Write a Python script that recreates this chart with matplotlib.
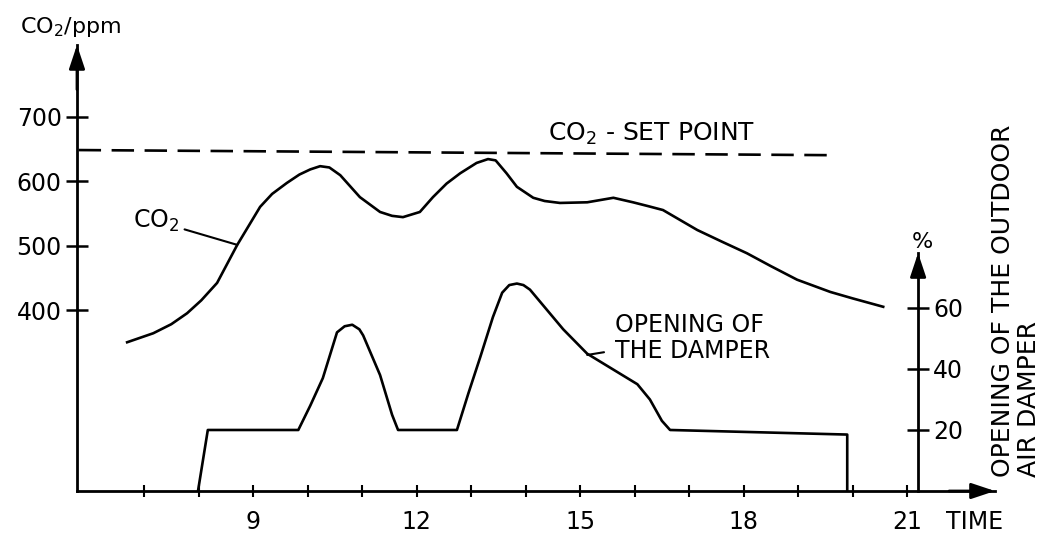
import matplotlib.pyplot as plt

# CO2 concentration (hour of day, ppm)
co2_time = [6.69, 7.17, 7.50, 7.79, 8.05, 8.34, 8.71, 9.13, 9.35, 9.62, 9.85, 10.05, 10.23,
            10.40, 10.60, 10.96, 11.33, 11.55, 11.75, 12.06, 12.30, 12.55, 12.80, 13.10,
            13.31, 13.45, 13.65, 13.84, 14.14, 14.35, 14.63, 15.13, 15.61, 15.97, 16.25,
            16.52, 17.15, 17.60, 18.06, 18.50, 18.98, 19.59, 20.00, 20.56]
co2_ppm = [350, 364, 378, 395, 415, 442, 501, 560, 580, 597, 610, 618, 623,
           621, 609, 575, 552, 546, 544, 552, 575, 596, 612, 628,
           634, 632, 612, 591, 574, 569, 566, 567, 574, 567, 561,
           555, 524, 506, 488, 468, 447, 428, 418, 405]

# set point line (dashed)
setpoint_time = [5.8, 19.7]
setpoint_ppm = [648, 640]

# damper opening in percent
damper_time = [7.99, 8.17, 9.83, 10.05, 10.28, 10.54, 10.68, 10.82, 10.95, 11.02, 11.33,
               11.55, 11.66, 12.74, 12.95, 13.17, 13.40, 13.57, 13.70, 13.84, 13.96, 14.08,
               14.69, 15.13, 16.05, 16.28, 16.50, 16.65, 19.90, 19.90]
damper_pct = [0, 20, 20, 28, 37, 52, 54, 54.5, 53, 51, 38,
              25, 20, 20, 32, 44, 57, 65, 67.5, 68, 67.5, 66,
              53, 45, 35, 30, 23, 20, 18.5, 0]

hour_ticks = list(range(7, 22))
hour_labels = [str(h) if h in (9, 12, 15, 18, 21) else '' for h in hour_ticks]
ppm_ticks = [400, 500, 600, 700]
pct_ticks = [20, 40, 60]

plt.rcParams['font.family'] = 'DejaVu Sans'
plt.rcParams['mathtext.default'] = 'regular'

fig = plt.figure(figsize=(10.46, 5.33), dpi=100)
ax = fig.add_axes([0.0736, 0.0788, 0.8776, 0.8368])
ax2 = ax.twinx()

ax.set_xlim(5.77, 22.61)
ax.set_ylim(119.4, 810.9)
ax2.set_ylim(0, 146.2)

lw = 1.9
ax.plot(co2_time, co2_ppm, color='black', lw=lw, solid_joinstyle='round')
ax.plot(setpoint_time, setpoint_ppm, color='black', lw=lw, dashes=(8.5, 4))
ax2.plot(damper_time, damper_pct, color='black', lw=lw, solid_joinstyle='round')

# axes look: only left, bottom and an inner right axis
for a in (ax, ax2):
    a.spines['top'].set_visible(False)
ax.spines['right'].set_visible(False)
ax2.spines['left'].set_visible(False)
ax2.spines['bottom'].set_visible(False)
ax.spines['left'].set_linewidth(2)
ax.spines['bottom'].set_linewidth(2)
ax2.spines['right'].set_position(('data', 21.2))
ax2.spines['right'].set_bounds(0, 78)
ax2.spines['right'].set_linewidth(2)

ax.set_xticks(hour_ticks)
ax.set_xticklabels(hour_labels)
ax.set_yticks(ppm_ticks)
ax.set_yticklabels([str(v) for v in ppm_ticks])
ax2.set_yticks(pct_ticks)
ax2.set_yticklabels([str(v) for v in pct_ticks])

ax.tick_params(axis='x', direction='inout', length=8, width=1.5, pad=10, labelsize=17)
ax.tick_params(axis='y', direction='inout', length=16, width=1.8, pad=3, labelsize=17)
ax2.tick_params(axis='y', direction='inout', length=16, width=1.8, pad=3, labelsize=17)

# arrow heads on the axes
arrow = dict(arrowstyle='-|>,head_length=0.9,head_width=0.3', color='black', lw=2,
             shrinkA=0, shrinkB=0, mutation_scale=16)
ax.annotate('', xy=(0, 1), xycoords='axes fraction', xytext=(0, 0.9), arrowprops=arrow)
ax.annotate('', xy=(1, 0), xycoords='axes fraction', xytext=(0.95, 0), arrowprops=arrow)
ax2.annotate('', xy=(21.2, 78), xytext=(21.2, 70), arrowprops=arrow)

# labels
fig.text(20 / 1046, 1 - 33 / 533, 'CO$_2$/ppm', fontsize=16, ha='left', va='baseline')
ax.text(14.41, 663, 'CO$_2$ - SET POINT', fontsize=18, ha='left', va='baseline')
ax.annotate('CO$_2$', xy=(8.71, 501), xytext=(7.22, 538), fontsize=17,
            ha='center', va='center',
            arrowprops=dict(arrowstyle='-', color='black', lw=1.5, shrinkA=2, shrinkB=0))
ax2.annotate('OPENING OF\nTHE DAMPER', xy=(15.13, 44.6), xytext=(15.64, 50.2),
             fontsize=17, ha='left', va='center', linespacing=1.1,
             arrowprops=dict(arrowstyle='-', color='black', lw=1.5, shrinkA=6, shrinkB=0))
fig.text(922 / 1046, 1 - 242 / 533, '%', fontsize=16, ha='center', va='center')
fig.text(975 / 1046, 1 - 522 / 533, 'TIME', fontsize=17, ha='center', va='center')
fig.text(1016 / 1046, 1 - 477 / 533, 'OPENING OF THE OUTDOOR\nAIR DAMPER', fontsize=18,
         rotation=90, ha='center', va='bottom', multialignment='left', linespacing=1.15)

fig.savefig('out.png', dpi=100)
